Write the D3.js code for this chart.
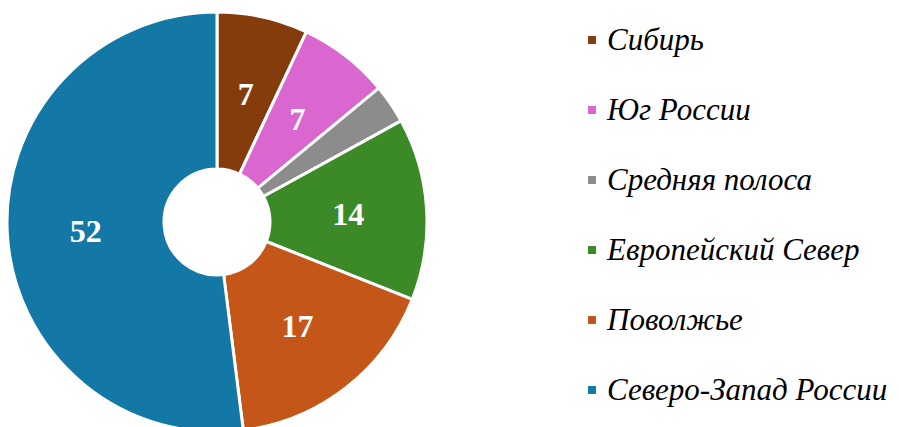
<!DOCTYPE html>
<html lang="ru">
  <head>
    <meta charset="utf-8">
    <title>Регионы</title>
    <script src="https://d3js.org/d3.v7.min.js"></script>
    <style>
      body { margin: 0; background: #fff; }
    </style>
  </head>
  <body>
    <script>
      const regions = ["Сибирь", "Юг России", "Средняя полоса", "Европейский Север", "Поволжье", "Северо-Запад России"];
      const shares = [7, 7, 3, 14, 17, 52];
      const shownLabels = ["7", "7", "", "14", "17", "52"];
      const colors = ["#843c0c", "#d967cf", "#8c8c8c", "#3c8a27", "#c5561a", "#1478a6"];

      const width = 899;
      const height = 427;
      const cx = 217, cy = 222;
      const outerR = 210, innerR = 53;
      const serif = "'Liberation Serif', 'Times New Roman', serif";

      const svg = d3.select("body").append("svg")
                    .attr("width", width)
                    .attr("height", height);

      const color = d3.scaleOrdinal().domain(regions).range(colors);

      const pie = d3.pie().sort(null).value((d, i) => shares[i]);
      const arc = d3.arc().innerRadius(innerR).outerRadius(outerR);

      const g = svg.append("g").attr("transform", `translate(${cx},${cy})`);
      const arcs = pie(regions);

      g.selectAll("path").data(arcs).enter().append("path")
        .attr("d", arc)
        .attr("fill", d => color(d.data))
        .attr("stroke", "#fff")
        .attr("stroke-width", 3)
        .attr("stroke-linejoin", "round");

      g.selectAll("text").data(arcs).enter().append("text")
        .attr("transform", d => `translate(${arc.centroid(d)})`)
        .attr("text-anchor", "middle")
        .attr("dy", "0.36em")
        .style("font-family", serif)
        .style("font-weight", "bold")
        .style("font-size", "32px")
        .style("fill", "#fff")
        .text((d, i) => shownLabels[i]);

      // legend
      const legendY = d3.scalePoint().domain(regions).range([40, 390]);
      const legend = svg.selectAll(".legend").data(regions).enter().append("g")
        .attr("class", "legend")
        .attr("transform", d => `translate(592,${legendY(d)})`);

      legend.append("rect")
        .attr("x", -4).attr("y", -4)
        .attr("width", 8).attr("height", 8)
        .attr("fill", d => color(d));

      legend.append("text")
        .attr("x", 15)
        .attr("y", 10)
        .style("font-family", serif)
        .style("font-style", "italic")
        .style("font-size", "31px")
        .style("fill", "#000")
        .text(d => d);
    </script>
  </body>
</html>
